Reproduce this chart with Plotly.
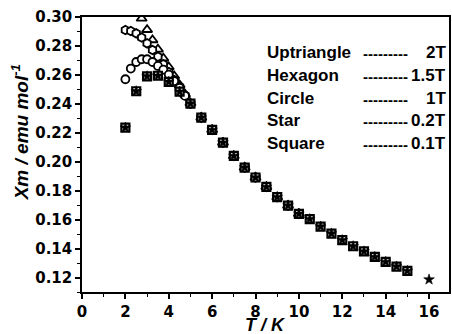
import plotly.graph_objects as go

# ---------------- data ----------------
T_low = [2.0, 2.25, 2.5, 2.75, 3.0, 3.25, 3.5, 3.75, 4.0, 4.25, 4.5, 4.75, 5.0]
T_mid = [5.5, 6.0, 6.5, 7.0, 7.5, 8.0, 8.5, 9.0, 9.5, 10.0]
chi_mid = [0.2305, 0.2220, 0.2132, 0.2040, 0.1960, 0.1891, 0.1826, 0.1755, 0.1697, 0.1640]

T_tail = [10.5, 11.0, 11.5, 12.0, 12.5, 13.0, 13.5, 14.0, 14.5, 15.0]
chi_tail = [0.1603, 0.1552, 0.1504, 0.1458, 0.1416, 0.1380, 0.1342, 0.1308, 0.1276, 0.1246]

# 2T (uptriangle)
T_2T = [2.75, 3.0, 3.25, 3.5, 3.75, 4.0, 4.25, 4.5, 4.75, 5.0] + T_mid
chi_2T = [0.2990, 0.2912, 0.2841, 0.2777, 0.2715, 0.2655, 0.2592, 0.2530, 0.2466, 0.2405] + chi_mid

# 1.5T (hexagon)
T_15T = T_low + T_mid
chi_15T = [0.2910, 0.2903, 0.2887, 0.2858, 0.2818, 0.2772, 0.2726, 0.2673, 0.2620,
           0.2565, 0.2519, 0.2459, 0.2402] + chi_mid

# 1T (circle)
T_1T = T_low + T_mid
chi_1T = [0.2570, 0.2644, 0.2689, 0.2708, 0.2708, 0.2689, 0.2662, 0.2636, 0.2602,
          0.2557, 0.2510, 0.2455, 0.2400] + chi_mid

# 0.2T (star) and 0.1T (square)
T_low_field = [2.0, 2.5, 3.0, 3.5, 4.0, 4.5, 5.0]
chi_low_field = [0.2235, 0.2487, 0.2590, 0.2594, 0.2552, 0.2484, 0.2402]
T_02T = T_low_field + T_mid + T_tail + [16.0]
chi_02T = chi_low_field + chi_mid + chi_tail + [0.1186]
T_01T = T_low_field + T_mid + T_tail
chi_01T = chi_low_field + chi_mid + chi_tail

legend_names = ["Uptriangle", "Hexagon", "Circle", "Star", "Square"]
legend_fields = ["2T", "1.5T", "1T", "0.2T", "0.1T"]
legend_dashes = ["---------", "---------", "---------", "---------", "---------"]

x_ticks = [0, 2, 4, 6, 8, 10, 12, 14, 16]
y_ticks = [0.12, 0.14, 0.16, 0.18, 0.20, 0.22, 0.24, 0.26, 0.28, 0.30]

# ---------------- figure ----------------
W, H = 452, 334
ML, MR, MT, MB = 82, 1, 17, 42
PW, PH = W - ML - MR, H - MT - MB

fig = go.Figure()

def add(x, y, symbol, size, filled=False, lw=1.8):
    fig.add_trace(go.Scatter(
        x=x, y=y, mode="markers", cliponaxis=True,
        marker=dict(symbol=symbol, size=size,
                    color="black" if filled else "white",
                    line=dict(color="black", width=lw)),
        showlegend=False, hoverinfo="skip"))

add(T_2T, chi_2T, "triangle-up", 9)
add(T_15T, chi_15T, "hexagon", 8.5)
add(T_1T, chi_1T, "circle", 8)
add(T_01T, chi_01T, "square", 8, lw=2.2)
add(T_02T, chi_02T, "star", 8, filled=True, lw=0.6)

tickfont = dict(family="DejaVu Sans", size=15, color="black", weight="bold")

fig.update_xaxes(
    range=[0, 16.92], tickvals=x_ticks, ticktext=[str(v) for v in x_ticks],
    ticks="outside", ticklen=5, tickwidth=1.5, tickcolor="black",
    minor=dict(dtick=1, ticks="outside", ticklen=3, tickwidth=1.2, tickcolor="black"),
    showline=True, linecolor="black", linewidth=1.5, mirror=True,
    showgrid=False, zeroline=False, tickfont=tickfont)

fig.update_yaxes(
    range=[0.11, 0.30], tickvals=y_ticks, ticktext=[f"{v:.2f}" for v in y_ticks],
    ticks="outside", ticklen=5, tickwidth=1.5, tickcolor="black",
    minor=dict(dtick=0.01, ticks="outside", ticklen=3, tickwidth=1.2, tickcolor="black"),
    showline=True, linecolor="black", linewidth=1.5, mirror=True,
    showgrid=False, zeroline=False, tickfont=tickfont)

def px(x):
    return (x - ML) / PW

def py(y):
    return (H - MB - y) / PH

# axis titles as annotations (positioned like the reference)
fig.add_annotation(x=px(266), y=py(325), xref="paper", yref="paper",
                   text="<b><i>T / K</i></b>", showarrow=False,
                   xanchor="center", yanchor="middle",
                   font=dict(family="Liberation Sans", size=18, color="black"))
fig.add_annotation(x=px(20), y=py(132), xref="paper", yref="paper",
                   text="<b><i>Xm / emu mol<sup>-1</sup></i></b>", showarrow=False,
                   textangle=-90, xanchor="center", yanchor="middle",
                   font=dict(family="Liberation Sans", size=19, color="black"))

rows_y = [53, 75.5, 98, 120.5, 143]
afont = dict(family="Liberation Sans", size=17, color="black")
for name, field, dash, yy in zip(legend_names, legend_fields, legend_dashes, rows_y):
    fig.add_annotation(x=px(266), y=py(yy), xref="paper", yref="paper",
                       text=f"<b>{name}</b>", showarrow=False,
                       xanchor="left", yanchor="middle", font=afont)
    fig.add_annotation(x=px(363), y=py(yy + 1), xref="paper", yref="paper",
                       text=f"<b>{dash}</b>", showarrow=False,
                       xanchor="left", yanchor="middle",
                       font=dict(family="Liberation Sans", size=15, color="black"))
    fig.add_annotation(x=px(450), y=py(yy), xref="paper", yref="paper",
                       text=f"<b>{field}</b>", showarrow=False,
                       xanchor="right", yanchor="middle", font=afont)

fig.update_layout(
    width=W, height=H,
    margin=dict(l=ML, r=MR, t=MT, b=MB, pad=0),
    paper_bgcolor="white", plot_bgcolor="white",
)

fig.write_html("out.html")
